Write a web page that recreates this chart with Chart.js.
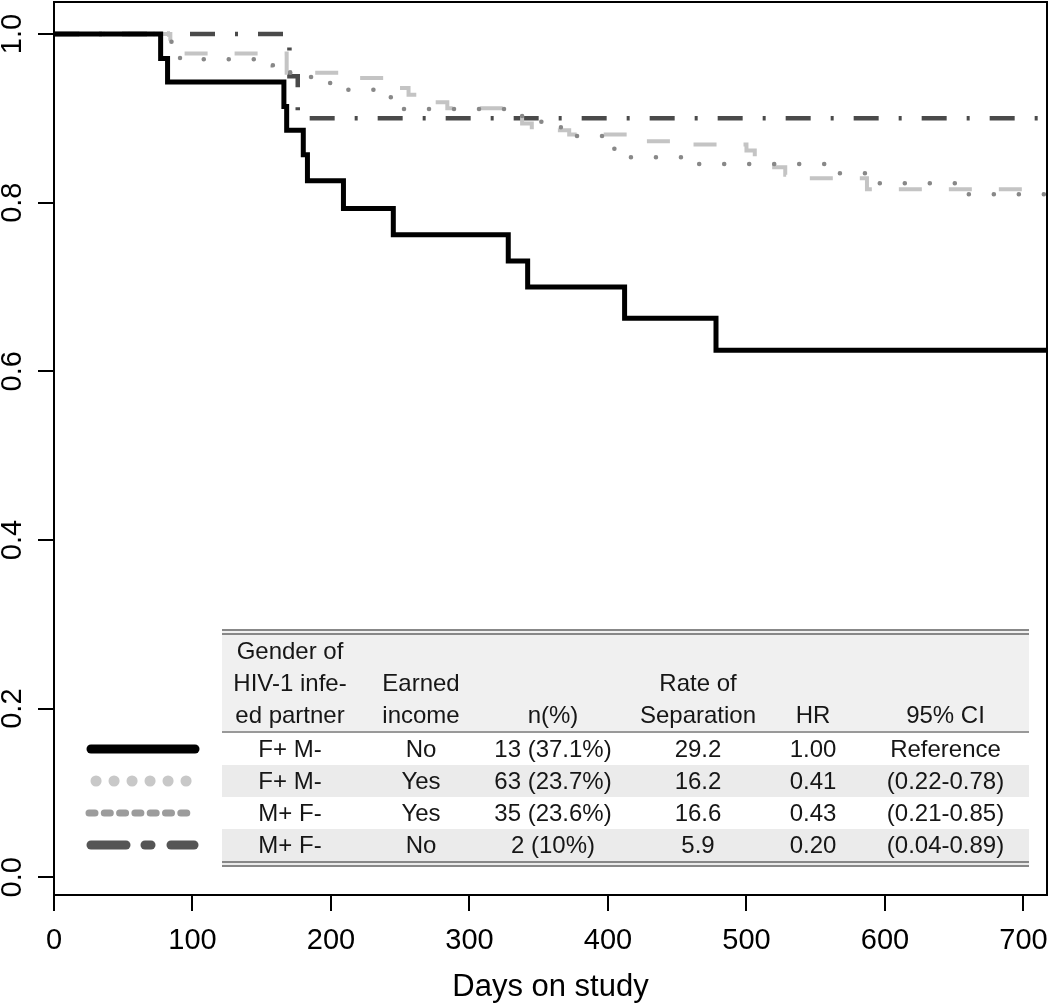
<!DOCTYPE html>
<html>
<head>
<meta charset="utf-8">
<title>Separation by gender of HIV-1 infected partner and earned income</title>
<script src="https://cdn.jsdelivr.net/npm/chart.js@4.4.1/dist/chart.umd.min.js"></script>
<style>
  body { margin: 0; background: #fff; }
  #wrap { position: relative; width: 1050px; height: 1006px; }
  #summary {
    position: absolute; left: 222px; top: 629px; width: 807px;
    border-collapse: separate; border-spacing: 0; table-layout: fixed;
    font-family: "Liberation Sans", Arial, sans-serif; font-size: 24px; color: #161616;
  }
  #summary th {
    font-weight: normal; background: #f0f0f0; line-height: 32px; vertical-align: bottom;
    height: 96px; padding: 0; border-top: 6px double #888; border-bottom: 2px solid #999;
  }
  #summary td { height: 32px; padding: 0; text-align: center; line-height: 32px; white-space: nowrap; }
  #summary tr.shade td { background: #ebebeb; }
  #summary td.gap { background: linear-gradient(to right, #ebebeb 13px, #fff 13px, #fff 24px, #ebebeb 24px); }
  #summary tbody tr:last-child td { border-bottom: 6px double #888; }
  #summary .ci { padding-left: 10px; }
</style>
</head>
<body>
<div id="wrap">
  <canvas id="kmChart" width="1050" height="1006"></canvas>
  <table id="summary">
    <colgroup>
      <col style="width:136px"><col style="width:126px"><col style="width:138px">
      <col style="width:152px"><col style="width:78px"><col style="width:177px">
    </colgroup>
    <thead>
      <tr>
        <th>Gender of<br>HIV-1 infe-<br>ed partner</th>
        <th>Earned<br>income</th>
        <th>n(%)</th>
        <th>Rate of<br>Separation</th>
        <th>HR</th>
        <th class="ci">95% CI</th>
      </tr>
    </thead>
    <tbody></tbody>
  </table>
</div>
<script>
// Kaplan-Meier curves: proportion still together vs days on study
const fmNoDays = [0, 77, 82, 166, 168, 180, 183, 209, 245, 328, 342, 412, 478, 717];
const fmNoSurv = [1, 0.971, 0.943, 0.914, 0.886, 0.857, 0.826, 0.793, 0.762, 0.731, 0.700, 0.663, 0.625, 0.625];

const fmYesDays = [0, 84, 91, 158, 168, 184, 197, 210, 240, 252, 338, 366, 403, 413, 462, 563, 593, 658, 717];
const fmYesSurv = [1, 0.991, 0.970, 0.963, 0.954, 0.949, 0.942, 0.934, 0.925, 0.911, 0.896, 0.879, 0.864, 0.854, 0.846, 0.835, 0.823, 0.810, 0.810];

const mfYesDays = [0, 84, 168, 215, 247, 256, 275, 284, 338, 345, 372, 420, 455, 500, 506, 520, 528, 540, 587, 717];
const mfYesSurv = [1, 0.977, 0.954, 0.948, 0.936, 0.928, 0.919, 0.912, 0.894, 0.886, 0.881, 0.873, 0.869, 0.862, 0.854, 0.842, 0.833, 0.829, 0.816, 0.816];

const mfNoDays = [0, 170, 176, 717];
const mfNoSurv = [1, 0.95, 0.9, 0.9];

const xTicks = [0, 100, 200, 300, 400, 500, 600, 700];
const yTicks = [0, 0.2, 0.4, 0.6, 0.8, 1.0];

// Summary table
const partner = ['F+ M-', 'F+ M-', 'M+ F-', 'M+ F-'];
const earned = ['No', 'Yes', 'Yes', 'No'];
const counts = ['13 (37.1%)', '63 (23.7%)', '35 (23.6%)', '2 (10%)'];
const rates = ['29.2', '16.2', '16.6', '5.9'];
const hazard = ['1.00', '0.41', '0.43', '0.20'];
const ci95 = ['Reference', '(0.22-0.78)', '(0.21-0.85)', '(0.04-0.89)'];

const FONT = '"Liberation Sans", Arial, sans-serif';

// Build table rows
const tbody = document.querySelector('#summary tbody');
partner.forEach((p, i) => {
  const tr = document.createElement('tr');
  if (i % 2 === 1) tr.className = 'shade';
  [p, earned[i], counts[i], rates[i], hazard[i], ci95[i]].forEach((txt, j) => {
    const td = document.createElement('td');
    td.textContent = txt;
    if (j === 5) td.className = 'ci';
    if (i === 1 && j === 3) td.className = 'gap';
    tr.appendChild(td);
  });
  tbody.appendChild(tr);
});

function toPoints(days, surv) {
  return days.map((d, i) => ({ x: d, y: surv[i] }));
}

// Plot frame like R's box()
const boxPlugin = {
  id: 'box',
  afterDraw(chart) {
    const { ctx, chartArea: a } = chart;
    ctx.save();
    ctx.lineWidth = 2;
    ctx.strokeStyle = '#000';
    ctx.strokeRect(a.left, a.top, a.right - a.left, a.bottom - a.top);
    ctx.restore();
  }
};

// Line samples to the left of the table rows
const sampleDrawers = [
  (ctx, y) => {
    ctx.strokeStyle = '#000'; ctx.lineWidth = 9; ctx.lineCap = 'round';
    ctx.beginPath(); ctx.moveTo(91, y); ctx.lineTo(195, y); ctx.stroke();
  },
  (ctx, y) => {
    ctx.strokeStyle = '#c8c8c8'; ctx.lineWidth = 11; ctx.lineCap = 'round';
    ctx.setLineDash([0.1, 17.9]);
    ctx.beginPath(); ctx.moveTo(96, y); ctx.lineTo(190, y); ctx.stroke();
  },
  (ctx, y) => {
    ctx.strokeStyle = '#9c9c9c'; ctx.lineWidth = 7; ctx.lineCap = 'round';
    ctx.setLineDash([6, 9.3]);
    ctx.beginPath(); ctx.moveTo(89, y); ctx.lineTo(194, y); ctx.stroke();
  },
  (ctx, y) => {
    ctx.strokeStyle = '#555'; ctx.lineWidth = 9; ctx.lineCap = 'round';
    [[91, 126], [145, 151], [171, 194]].forEach(([a, b]) => {
      ctx.beginPath(); ctx.moveTo(a, y); ctx.lineTo(b, y); ctx.stroke();
    });
  }
];

const samplePlugin = {
  id: 'samples',
  afterDraw(chart) {
    const ctx = chart.ctx;
    const wrapTop = document.getElementById('wrap').getBoundingClientRect().top;
    const rows = document.querySelectorAll('#summary tbody tr');
    rows.forEach((row, i) => {
      const cell = row.cells[0].getBoundingClientRect();
      const y = cell.top - wrapTop + 16;
      ctx.save();
      sampleDrawers[i](ctx, y);
      ctx.restore();
    });
  }
};

const ctx = document.getElementById('kmChart');

new Chart(ctx, {
  type: 'line',
  data: {
    datasets: [
      {
        label: 'F+ M- / No',
        data: toPoints(fmNoDays, fmNoSurv),
        borderColor: '#000',
        borderWidth: 5,
        stepped: true
      },
      {
        label: 'F+ M- / Yes',
        data: toPoints(fmYesDays, fmYesSurv),
        borderColor: '#888',
        borderWidth: 4.5,
        borderCapStyle: 'round',
        borderDash: [0.1, 24.9],
        stepped: true
      },
      {
        label: 'M+ F- / Yes',
        data: toPoints(mfYesDays, mfYesSurv),
        borderColor: '#c4c4c4',
        borderWidth: 4,
        borderDash: [23, 27],
        stepped: true
      },
      {
        label: 'M+ F- / No',
        data: toPoints(mfNoDays, mfNoSurv),
        borderColor: '#4a4a4a',
        borderWidth: 4.5,
        borderDash: [25, 20, 3, 20],
        stepped: true
      }
    ]
  },
  options: {
    responsive: false,
    animation: false,
    elements: { point: { radius: 0 } },
    layout: { padding: { top: 2, right: 3, left: 0, bottom: 0 } },
    plugins: {
      legend: { display: false },
      tooltip: { enabled: false }
    },
    scales: {
      x: {
        type: 'linear',
        min: 0,
        max: 717,
        afterBuildTicks: axis => { axis.ticks = xTicks.map(v => ({ value: v })); },
        afterFit: axis => {
          axis.height = 111;
          axis.paddingLeft = 0;
          axis.paddingRight = 0;
        },
        ticks: {
          font: { family: FONT, size: 29 },
          color: '#000',
          padding: 13,
          maxRotation: 0,
          autoSkip: false,
          callback: v => String(v)
        },
        grid: { drawOnChartArea: false, drawTicks: true, tickLength: 16, color: '#000', lineWidth: 2 },
        border: { display: false },
        title: {
          display: true,
          text: 'Days on study',
          font: { family: FONT, size: 31 },
          color: '#000',
          padding: { top: 11, bottom: 0 }
        }
      },
      y: {
        type: 'linear',
        min: -0.021,
        max: 1.038,
        afterBuildTicks: axis => { axis.ticks = yTicks.map(v => ({ value: v })); },
        afterFit: axis => {
          axis.width = 54;
          axis.paddingTop = 0;
          axis.paddingBottom = 0;
        },
        ticks: {
          font: { family: FONT, size: 29 },
          color: '#000',
          padding: 5,
          minRotation: 90,
          maxRotation: 90,
          crossAlign: 'center',
          autoSkip: false,
          callback: v => v.toFixed(1)
        },
        grid: { drawOnChartArea: false, drawTicks: true, tickLength: 16, color: '#000', lineWidth: 2 },
        border: { display: false }
      }
    }
  },
  plugins: [boxPlugin, samplePlugin]
});
</script>
</body>
</html>
